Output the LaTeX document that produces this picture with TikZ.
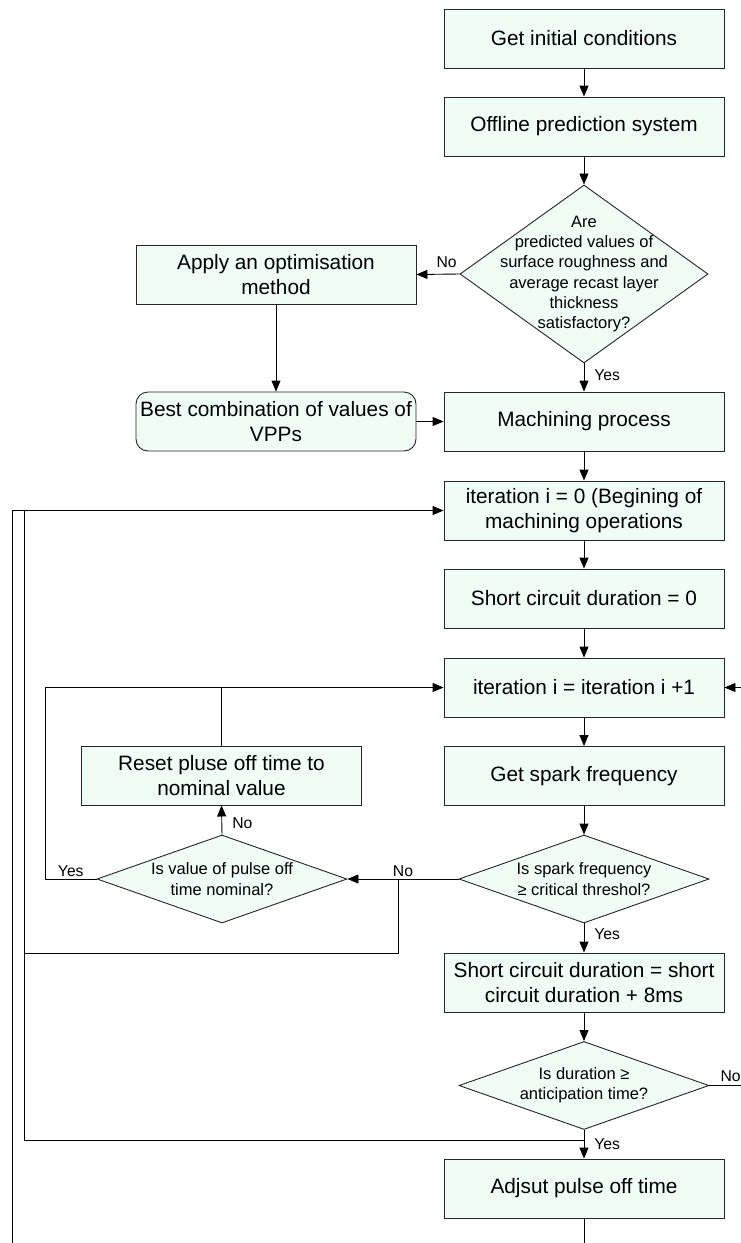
\documentclass[tikz,border=0pt]{standalone}
\usepackage{fontspec}
\setmainfont{Liberation Sans}
\usetikzlibrary{shapes.geometric,arrows.meta}
\definecolor{boxfill}{RGB}{240,252,246}

\begin{document}
\begin{tikzpicture}[x=1pt,y=-1pt,line width=0.9pt,
  >={Triangle[length=11pt,width=9pt]},
  box/.style={draw=black!85,fill=boxfill,minimum width=280pt,minimum height=59pt,
    inner sep=2pt,align=center,font=\fontsize{20.8}{25}\selectfont},
  decision/.style={diamond,draw=black!85,fill=boxfill,inner sep=0pt},
  dtext/.style={align=center,font=\fontsize{16.5}{20.2}\selectfont},
  lbl/.style={inner sep=1pt,font=\fontsize{15.7}{18}\selectfont}]
\path[fill=white,use as bounding box] (0,0) rectangle (741,1243);

\node[box] (init) at (584,38.5) {Get initial conditions};
\node[box] (offline) at (584,126.5) {Offline prediction system};
\node[decision,minimum width=248pt,minimum height=178pt,
  label={[dtext]center:{Are\\predicted values of\\surface roughness and\\average recast layer\\thickness\\satisfactory?}}]
  (dec1) at (584,274) {};
\node[box] (apply) at (276,274.5) {Apply an optimisation\\method};
\node[box,rounded corners=12pt] (best) at (276,421.5) {Best combination of values of\\VPPs};
\node[box] (mach) at (584,421.5) {Machining process};
\node[box] (iter0) at (584,510.5) {iteration i = 0 (Begining of\\machining operations};
\node[box] (short0) at (584,598.5) {Short circuit duration = 0};
\node[box] (iter1) at (584,687.5) {iteration i = iteration i +1};
\node[box] (spark) at (584,776) {Get spark frequency};
\node[decision,minimum width=250pt,minimum height=88pt,
  label={[dtext]center:{Is spark frequency\\≥ critical threshol?}}] (decspark) at (584,879) {};
\node[box] (short8) at (584,982.5) {Short circuit duration = short\\circuit duration + 8ms};
\node[decision,minimum width=250pt,minimum height=88pt,
  label={[dtext]center:{Is duration ≥\\anticipation time?}}] (decdur) at (584,1085.5) {};
\node[box] (adjust) at (584,1188.5) {Adjsut pulse off time};
\node[box] (reset) at (221.5,775.5) {Reset pluse off time to\\nominal value};
\node[decision,minimum width=250pt,minimum height=88pt,
  label={[dtext]center:{Is value of pulse off\\time nominal?}}] (decpulse) at (222,879) {};

\coordinate (rno) at (741,1085.5);
\coordinate (rin) at (741,687.5);
\coordinate (bend) at (584,1243);
\coordinate (lend) at (12,1243);
\coordinate (jdur) at (584,1140);
\coordinate (jtop) at (24,510.5);
\coordinate (jno) at (398,879);
\coordinate (jlow) at (24,953);
\coordinate (jyes) at (45,879);
\coordinate (jreset) at (221.5,687.5);

\draw[->] (init) -- (offline);
\draw[->] (offline) -- (dec1);
\draw[->] (dec1.west) -- node[lbl,above=5pt,pos=.3] {No} (apply.east);
\draw[->] (dec1.south) -- node[lbl,right=9pt,pos=.4] {Yes} (mach.north);
\draw[->] (apply) -- (best);
\draw[->] (best) -- (mach);
\draw[->] (mach) -- (iter0);
\draw[->] (iter0) -- (short0);
\draw[->] (short0) -- (iter1);
\draw[->] (iter1) -- (spark);
\draw[->] (spark) -- (decspark);
\draw[->] (decspark.south) -- node[lbl,right=9pt,pos=.37] {Yes} (short8.north);
\draw[->] (short8) -- (decdur);
\draw[->] (decdur.south) -- node[lbl,right=9pt,pos=.5] {Yes} (adjust.north);
\draw (decdur.east) -- node[lbl,above=2pt,pos=.67] {No} (rno);
\draw[->] (rin) -- (iter1.east);
\draw (adjust) -- (bend);
\draw[->] (lend) |- (iter0.west);
\draw (jdur) -| (jtop);
\draw[->] (decspark.west) -- node[lbl,above=1pt] {No} (decpulse.east);
\draw (jno) |- (jlow);
\draw[->] (decpulse.north) -- node[lbl,right=9pt,pos=.4] {No} (reset.south);
\draw[->] (decpulse.west) -- node[lbl,above=1pt] {Yes} (jyes) |- (iter1.west);
\draw (reset) -- (jreset);
\end{tikzpicture}
\end{document}
